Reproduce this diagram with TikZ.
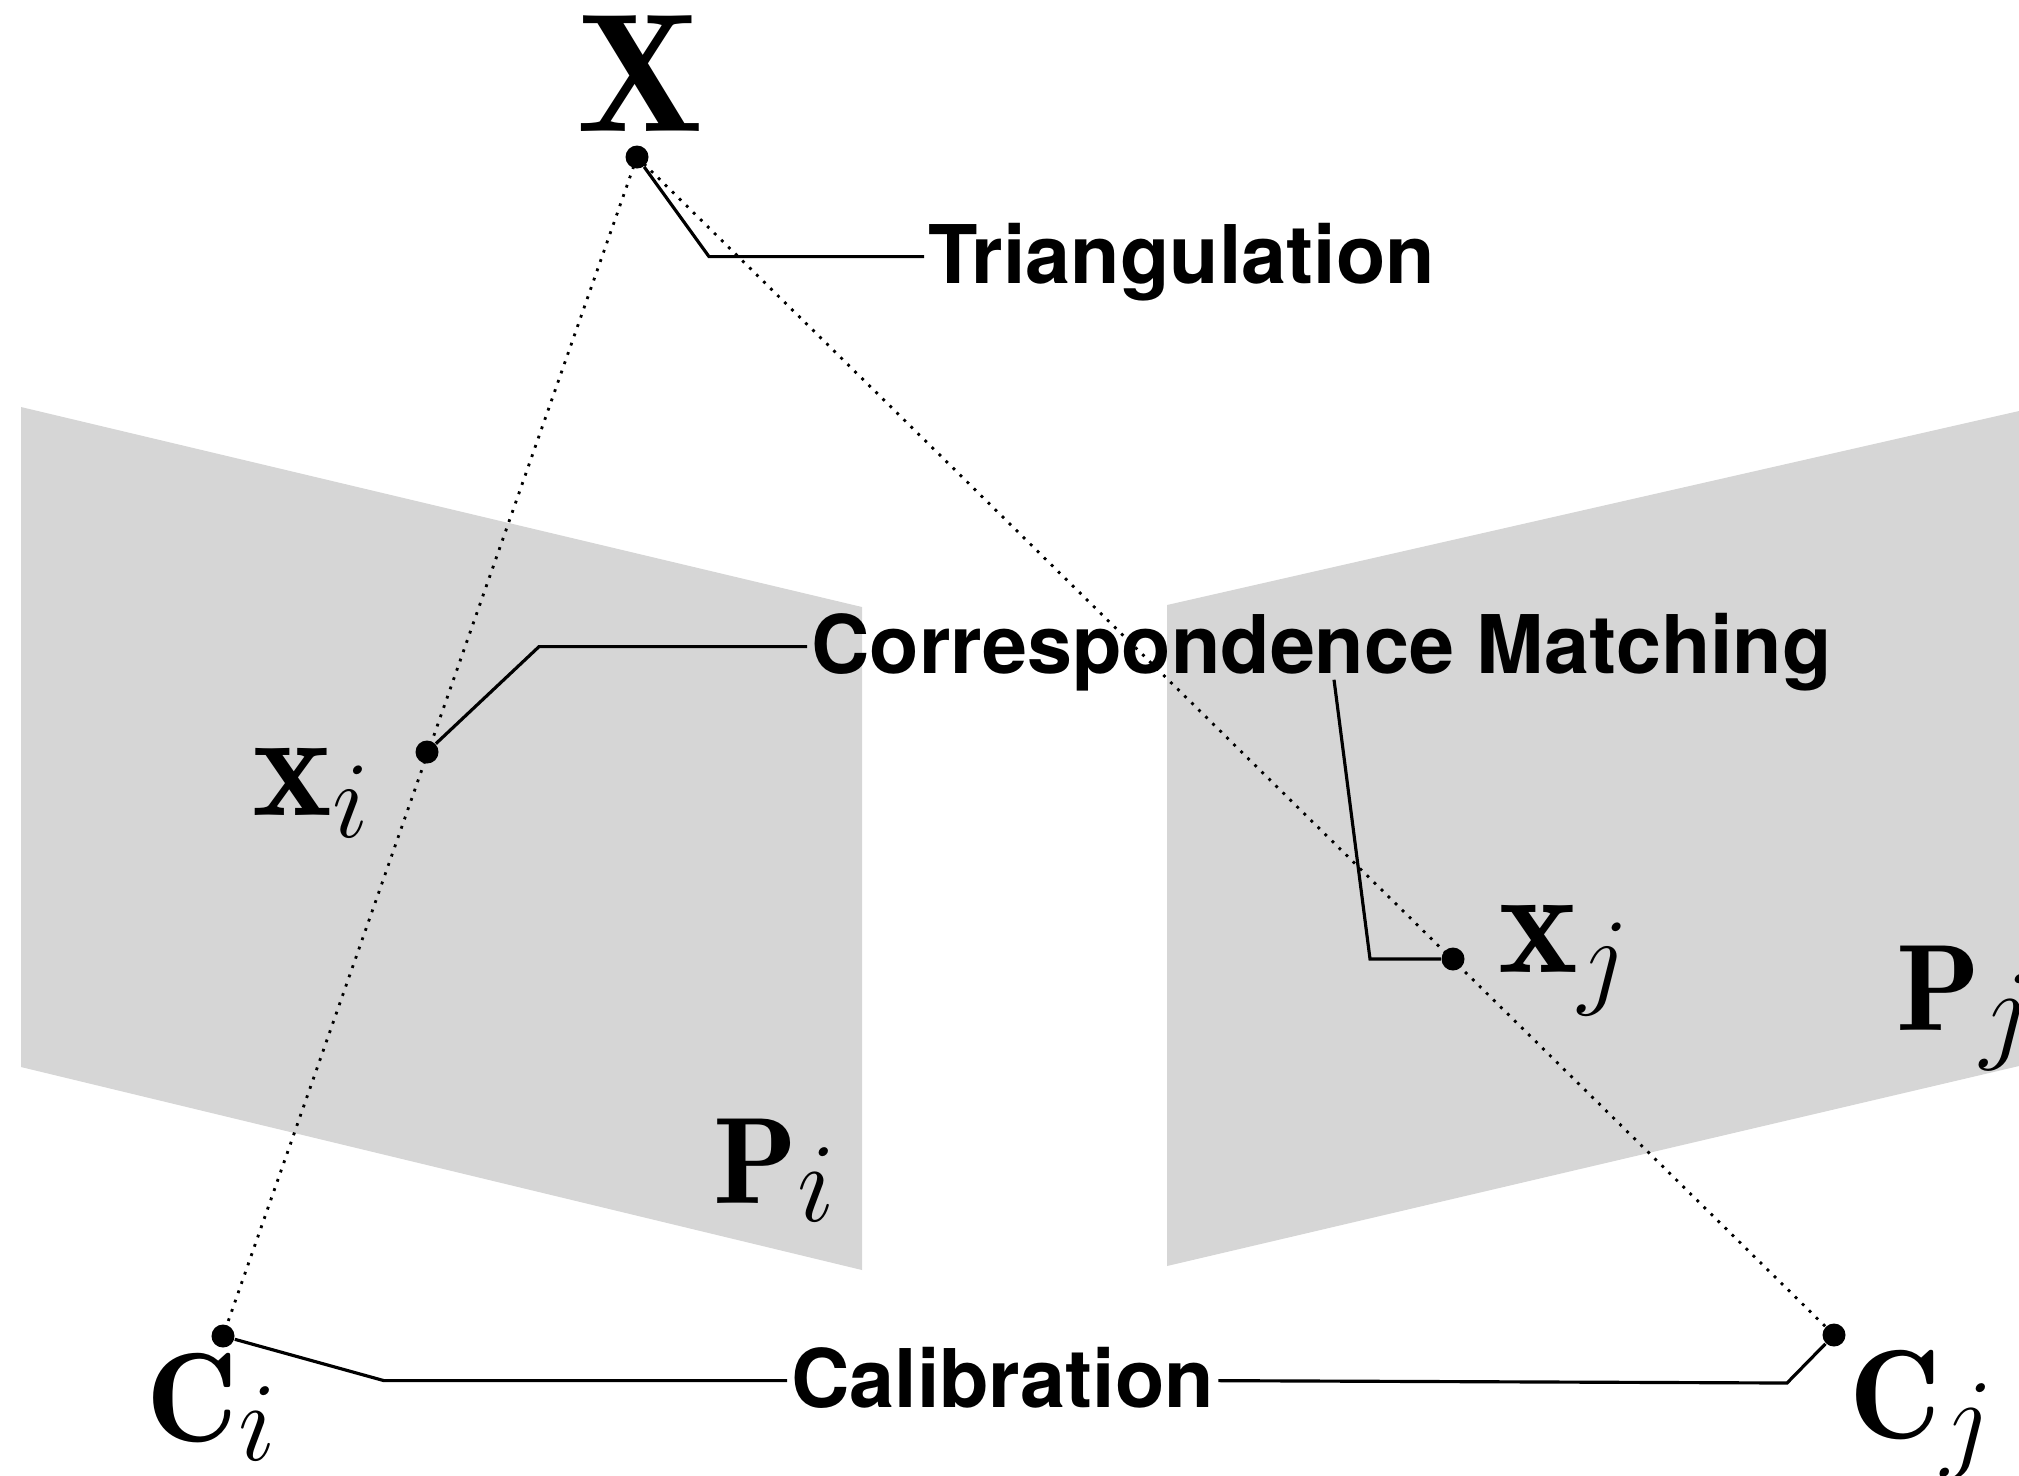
\RequirePackage{fix-cm}
\documentclass[tikz,border=0pt]{standalone}
\usepackage{fontspec}
\usepackage{tikz}
\usetikzlibrary{positioning,calc}
\newfontfamily\stagefont{TeX Gyre Heros}
\definecolor{PlaneGray}{HTML}{D6D6D6}
\DeclareMathSizes{48}{48}{33}{22}
\DeclareMathSizes{43}{43}{31}{22}
\DeclareMathSizes{36}{36}{32}{22}
\DeclareMathSizes{35}{35}{32}{22}

\begin{document}
\begin{tikzpicture}[
  x=0.01cm, y=-0.01cm,
  plane/.style={fill=PlaneGray, draw=none},
  campt/.style={circle, fill=black, inner sep=0pt, minimum size=0.23cm},
  ray/.style={dotted, line width=0.8pt},
  leader/.style={line width=0.9pt},
  stage/.style={font=\stagefont\bfseries\fontsize{23}{26}\selectfont, inner xsep=1pt, inner ysep=0pt, text height=15pt, text depth=0pt, anchor=base west},
  sym/.style={inner sep=0pt, anchor=base west}
]
\useasboundingbox (0,0) rectangle (2019,1475);
\clip (0,0) rectangle (2019,1475);

% image planes
\fill[plane] (21,407) -- (862,607) -- (862,1270) -- (21,1067) -- cycle;
\fill[plane] (1167,605) -- (2019,411) -- (2019,1066) -- (1167,1266) -- cycle;

\node[campt] (Xdot) at (637,157) {};
\node[campt] (xidot) at (427,752) {};
\node[campt] (xjdot) at (1453,959) {};
\node[campt] (Cidot) at (223,1336) {};
\node[campt] (Cjdot) at (1834,1335) {};

\draw[ray] (Xdot.center) -- (Cidot.center);
\draw[ray] (Xdot.center) -- (Cjdot.center);

\node[sym, anchor=base, font=\fontsize{48}{52}\selectfont] (Xlbl) at (640,131) {$\mathbf{X}$};
\node[sym, font=\fontsize{43}{46}\selectfont] (xilbl) at (252,815) {$\mathbf{x}_i$};
\node[sym, font=\fontsize{43}{46}\selectfont] (xjlbl) at (1498,972) {$\mathbf{x}_j$};
\node[sym, font=\fontsize{36}{40}\selectfont] (Cilbl) at (146,1441) {$\mathbf{C}_{\smash{i}}$};
\node[sym, font=\fontsize{36}{40}\selectfont] (Cjlbl) at (1849,1438) {$\mathbf{C}_{\smash{j}}$};
\node[sym, font=\fontsize{35}{38}\selectfont] (Pilbl) at (713,1203) {$\mathbf{P}_{\smash{i}}$};
\node[sym, font=\fontsize{35}{38}\selectfont] (Pjlbl) at (1896,1030) {$\mathbf{P}_{\smash{j}}$};

\node[stage] (tri) at (924,283) {Triangulation};
\node[stage] (corr) at (807,673) {Correspondence Matching};
\node[stage] (calib) at (787,1407) {Calibration};

\draw[leader] (Xdot) -- ($(tri.west)+(-215,0)$) -- (tri.west);
\draw[leader] (xidot) -- ($(corr.west)+(-268,0)$) -- (corr.west);
\draw[leader] ($(corr.south west)+(527,6)$) -- ($(xjdot)+(-83,0)$) -- (xjdot);
\draw[leader] (Cidot) -- ($(calib.west)+(-403,0)$) -- (calib.west);
\draw[leader] (calib.east) -- ($(Cjdot)+(-47,48)$) -- (Cjdot);
\end{tikzpicture}
\end{document}
